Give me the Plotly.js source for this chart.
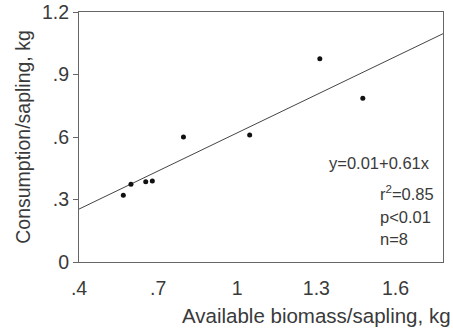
<!DOCTYPE html>
<html><head><meta charset="utf-8">
<script src="https://cdn.plot.ly/plotly-3.0.1.min.js"></script>
<style>html,body{margin:0;padding:0;background:#fff}#c{width:453px;height:331px}</style>
</head><body><div id="c"></div>
<script>
const biomass = [0.568, 0.597, 0.653, 0.678, 0.796, 1.047, 1.313, 1.476];
const consumption = [0.32, 0.373, 0.385, 0.389, 0.60, 0.61, 0.976, 0.786];
const fitIntercept = 0.01;
const fitSlope = 0.61;
const fitX = [0.4, 1.78];
const xTickVals = [0.4, 0.7, 1.0, 1.3, 1.6];
const xTickText = ['.4', '.7', '1', '1.3', '1.6'];
const yTickVals = [0, 0.3, 0.6, 0.9, 1.2];
const yTickText = ['0', '.3', '.6', '.9', '1.2'];
const statsLines = ['y=0.01+0.61x', 'r<sup>2</sup>=0.85', 'p<0.01', 'n=8'];

const fitY = fitX.map(x => fitIntercept + fitSlope * x);
const font = 'Liberation Sans, Arial, sans-serif';
const txt = '#3a3a3a';

const data = [
  {x: fitX, y: fitY, mode: 'lines', type: 'scatter', line: {color: '#444', width: 1}, hoverinfo: 'skip'},
  {x: biomass, y: consumption, mode: 'markers', type: 'scatter', marker: {color: '#111', size: 5}}
];

const layout = {
  width: 453, height: 331,
  margin: {l: 79, r: 10, t: 12, b: 69},
  paper_bgcolor: '#fff', plot_bgcolor: '#fff',
  showlegend: false,
  font: {family: font, color: txt, size: 19},
  xaxis: {
    range: [0.4, 1.78], tickvals: xTickVals, ticktext: xTickText,
    showgrid: false, zeroline: false, showline: true, mirror: true,
    linecolor: '#666', linewidth: 1, ticks: '', ticklen: 0, ticklabelstandoff: 9,
    tickfont: {size: 19.5, color: txt, family: font}
  },
  yaxis: {
    range: [0, 1.2], tickvals: yTickVals, ticktext: yTickText,
    showgrid: false, zeroline: false, showline: true, mirror: true,
    linecolor: '#666', linewidth: 1, ticks: 'outside', ticklen: 5, tickcolor: '#666',
    tickfont: {size: 19.5, color: txt, family: font},
    title: {text: 'Consumption/sapling, kg', font: {size: 19.5, color: txt, family: font}, standoff: 6}
  },
  annotations: [
    {xref: 'paper', yref: 'paper', x: 1, y: 0, xanchor: 'right', yanchor: 'middle',
     xshift: 10, yshift: -53, text: 'Available biomass/sapling, kg', showarrow: false,
     font: {size: 20.5, color: txt, family: font}},
    {xref: 'x', yref: 'y', x: 1.34, y: 0.474, xanchor: 'left', yanchor: 'middle', text: statsLines[0], showarrow: false, font: {size: 16.5, color: txt, family: font}},
    {xref: 'x', yref: 'y', x: 1.535, y: 0.33, xanchor: 'left', yanchor: 'middle', text: statsLines[1], showarrow: false, font: {size: 16.5, color: txt, family: font}},
    {xref: 'x', yref: 'y', x: 1.535, y: 0.216, xanchor: 'left', yanchor: 'middle', text: statsLines[2], showarrow: false, font: {size: 16.5, color: txt, family: font}},
    {xref: 'x', yref: 'y', x: 1.535, y: 0.11, xanchor: 'left', yanchor: 'middle', text: statsLines[3], showarrow: false, font: {size: 16.5, color: txt, family: font}}
  ]
};
Plotly.newPlot('c', data, layout, {displayModeBar: false, staticPlot: true});
</script></body></html>
